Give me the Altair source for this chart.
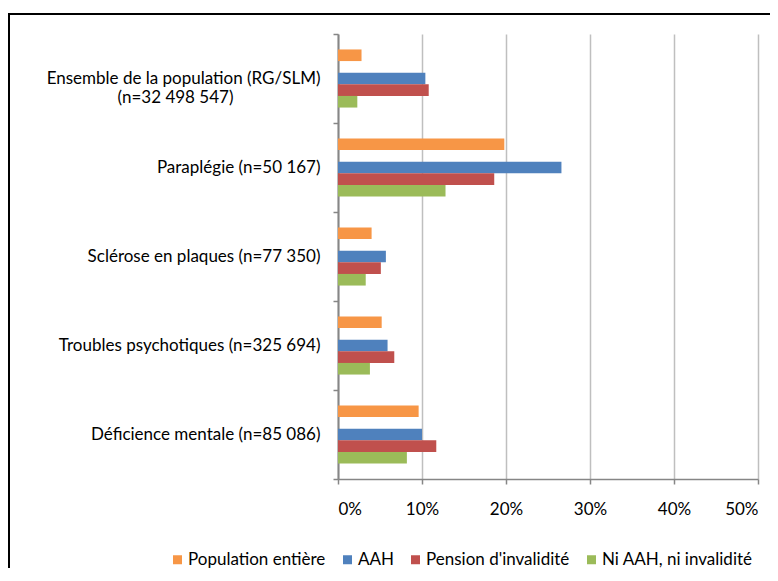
import altair as alt
import pandas as pd

categories = [
    "Ensemble de la population (RG/SLM)|(n=32 498 547)",
    "Paraplégie (n=50 167)",
    "Sclérose en plaques (n=77 350)",
    "Troubles psychotiques (n=325 694)",
    "Déficience mentale (n=85 086)",
]
series = ["Population entière", "AAH", "Pension d'invalidité", "Ni AAH, ni invalidité"]
colors = ["#F79646", "#4F81BD", "#C0504D", "#9BBB59"]
slots = ["_top", "Population entière", "_gap", "AAH", "Pension d'invalidité", "Ni AAH, ni invalidité", "_bottom"]

pop = [2.8, 19.8, 4.0, 5.2, 9.6]
aah = [10.4, 26.6, 5.7, 5.9, 10.0]
pension = [10.8, 18.6, 5.1, 6.7, 11.7]
ni = [2.3, 12.8, 3.3, 3.8, 8.2]

x_ticks = [0, 10, 20, 30, 40, 50]

rows = []
for s, vals in zip(series, [pop, aah, pension, ni]):
    for c, v in zip(categories, vals):
        rows.append({"cat": c, "series": s, "value": v})
df = pd.DataFrame(rows)

FONT = "Lato"
PAD = "\u00a0" * 20 + "\u200b"

label_expr = (
    "indexof(datum.label, '|') >= 0 ? "
    "[split(datum.label, '|')[0], split(datum.label, '|')[1] + '" + PAD + "'] : datum.label"
)

bars = alt.Chart(df).mark_bar(cornerRadius=0).encode(
    x=alt.X(
        "value:Q",
        scale=alt.Scale(domain=[0, 50], nice=False),
        axis=alt.Axis(
            values=x_ticks,
            labelExpr="datum.value + '%'",
            title=None,
            grid=True,
            gridColor="#BFBFBF",
            gridWidth=1.5,
            domainColor="#868686",
            domainWidth=1.5,
            tickColor="#868686",
            tickWidth=1.5,
            tickSize=5,
            labelFont=FONT,
            labelFontSize=17,
            labelColor="#000000",
            labelPadding=17,
        ),
    ),
    y=alt.Y(
        "cat:N",
        sort=categories,
        scale=alt.Scale(domain=categories, paddingInner=0, paddingOuter=0),
        axis=alt.Axis(
            title=None,
            tickBand="extent",
            labelExpr=label_expr,
            domainColor="#868686",
            domainWidth=2,
            tickColor="#868686",
            tickWidth=1.5,
            tickSize=5,
            labelFont=FONT,
            labelFontSize=17,
            labelColor="#000000",
            labelLimit=500,
            labelPadding=13,
            labelLineHeight=19,
        ),
    ),
    yOffset=alt.YOffset(
        "series:N",
        scale=alt.Scale(domain=slots, paddingInner=0, paddingOuter=0.33),
    ),
    color=alt.Color(
        "series:N",
        scale=alt.Scale(domain=series, range=colors),
        legend=alt.Legend(
            title=None,
            orient="none",
            direction="horizontal",
            legendX=-169,
            legendY=517,
            symbolType="square",
            symbolSize=81,
            symbolStrokeWidth=0,
            symbolOpacity=1,
            labelFont=FONT,
            labelFontSize=17,
            labelColor="#000000",
            labelOffset=2,
            columnPadding=13,
            labelLimit=300,
        ),
    ),
)

border = alt.Chart(pd.DataFrame({"a": [0]})).mark_rect(
    fillOpacity=0, stroke="#000000", strokeWidth=2
).encode(
    x=alt.value(-329),
    x2=alt.value(460),
    y=alt.value(-20),
    y2=alt.value(600),
)

chart = alt.layer(border, bars).properties(
    width=420,
    height=445,
    padding={"left": 330, "top": 26, "right": 12, "bottom": 89},
    autosize="none",
).configure_view(stroke=None)

chart.save("out.html", embed_options={"renderer": "svg", "actions": False})
